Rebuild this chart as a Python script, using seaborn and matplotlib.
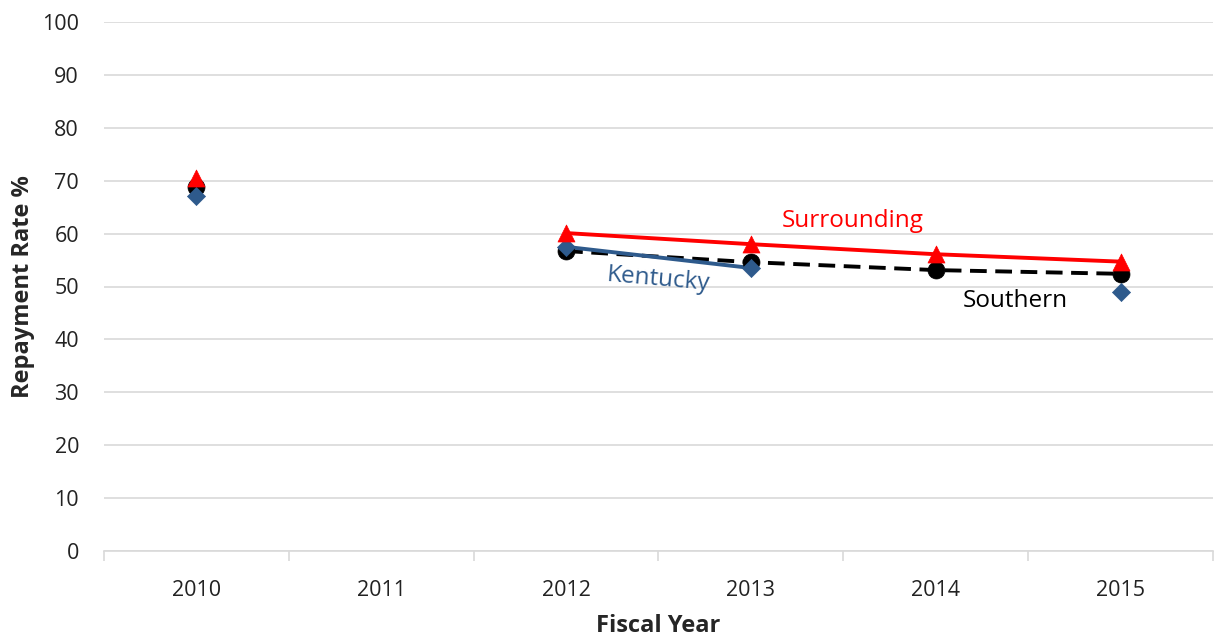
import numpy as np
import pandas as pd
import matplotlib
matplotlib.use("Agg")
import matplotlib.pyplot as plt
import seaborn as sns

years = ["2010", "2011", "2012", "2013", "2014", "2015"]
kentucky = [67.1, np.nan, 57.5, 53.5, np.nan, 49.0]
southern = [68.8, np.nan, 56.7, 54.6, 53.1, 52.4]
surrounding = [70.6, np.nan, 60.1, 58.0, 56.1, 54.7]

sns.set_theme(style="white")
plt.rcParams["font.family"] = ["Open Sans", "DejaVu Sans"]

fig = plt.figure(figsize=(12.15, 6.39), dpi=100)
ax = fig.add_axes([104 / 1215, 88 / 639, (1213 - 104) / 1215, (551 - 22) / 639])

x = np.arange(len(years))
df = pd.DataFrame({"year": x, "Kentucky": kentucky, "Southern": southern,
                   "Surrounding": surrounding})

blue = "#2E5A8C"
styles = {
    "Southern": dict(color="#000000", marker="o", ms=150),
    "Kentucky": dict(color=blue, marker="D", ms=85),
    "Surrounding": dict(color="#FF0000", marker="^", ms=150),
}
order = ["Southern", "Kentucky", "Surrounding"]

# Lines break where a year has no value
for i, name in enumerate(order):
    st = styles[name]
    line, = ax.plot(df["year"], df[name], color=st["color"], lw=2.8, zorder=2 + i * 0.1)
    if name == "Southern":
        line.set_dashes((4.3, 2.2))

for i, name in enumerate(order):
    st = styles[name]
    sns.scatterplot(data=df.dropna(subset=[name]), x="year", y=name, ax=ax,
                    marker=st["marker"], s=st["ms"], color=st["color"],
                    edgecolor=st["color"], linewidth=0.5, zorder=3 + i * 0.1,
                    legend=False)

ax.set_xlim(-0.5, len(years) - 0.5)
ax.set_ylim(0, 100)
ax.set_yticks(range(0, 101, 10))
ax.set_xticks(x)
ax.set_xticklabels(years)
ax.yaxis.grid(True, color="#D9D9D9", lw=1.2)
ax.xaxis.grid(False)
for side in ["top", "right", "left"]:
    ax.spines[side].set_visible(False)
ax.spines["bottom"].set_color("#D9D9D9")
ax.spines["bottom"].set_linewidth(1.2)

# Category boundary ticks on the x axis
ax.set_xticks(np.arange(-0.5, len(years), 1.0), minor=True)
ax.tick_params(axis="x", which="minor", length=7, color="#D9D9D9", width=1.2,
               bottom=True)
ax.tick_params(axis="x", which="major", length=0, labelsize=15.5, pad=21,
               labelcolor="#222222")
ax.tick_params(axis="y", length=0, labelsize=15.5, pad=18, labelcolor="#222222")

ax.set_xlabel("Fiscal Year", fontsize=17, fontweight="bold", labelpad=9)
ax.set_ylabel("Repayment Rate %", fontsize=17, fontweight="bold", labelpad=5)

ax.text(3.55, 62.3, "Surrounding", color="#FF0000", fontsize=17.5,
        ha="center", va="center")
ax.text(2.5, 51.3, "Kentucky", color=blue, fontsize=17.5, ha="center",
        va="center", rotation=-5)
ax.text(4.43, 47.3, "Southern", color="#000000", fontsize=17.5,
        ha="center", va="center")

fig.savefig("out.png", dpi=100)
